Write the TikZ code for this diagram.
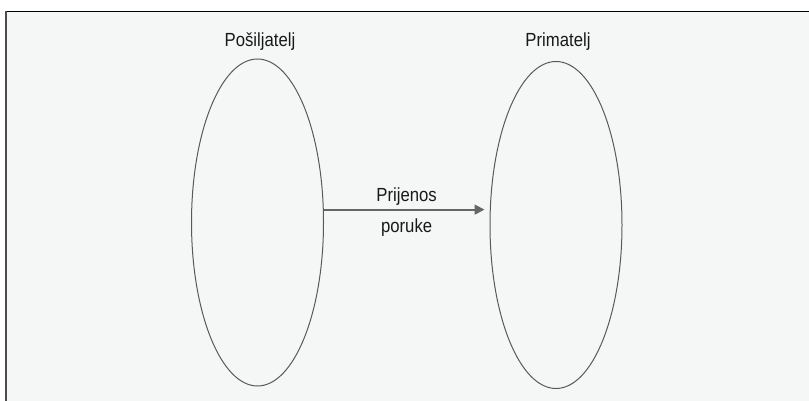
\documentclass[tikz,border=0pt]{standalone}
\usepackage{fontspec}
\setmainfont[FakeStretch=0.88]{Liberation Sans}
\usetikzlibrary{arrows.meta,positioning,shapes.geometric}
\tikzset{
  party/.style={ellipse, draw=black!65, line width=0.5pt, inner sep=0pt,
                minimum width=66pt, minimum height=163.5pt},
  ttl/.style={font=\fontsize{9.5}{11}\selectfont, text=black!90},
  msg/.style={-{Triangle[length=5pt,width=5pt]}, line width=0.9pt, draw=black!60},
}
\definecolor{paper}{RGB}{244,247,246}

\begin{document}
\begin{tikzpicture}[x=0.5pt,y=-0.5pt]
\useasboundingbox (0,0) rectangle (809,401);
% page and frame
\fill[paper] (6,11.5) rectangle (809,401);
\draw[black, line width=0.8pt] (5.5,11.5) -- (809,11.5);
\draw[black!70, line width=1pt] (6,11.5) -- (6,401);
% the two parties
\node[party] (sender) at (257.5,222.5) {};
\node[party] (receiver) at (556,225) {};
\node[ttl, anchor=base] (sendtitle) at (260,46.5) {Pošiljatelj};
\node[ttl, anchor=base] (recvtitle) at (558,46.5) {Primatelj};
% message
\draw[msg, shorten >=2.5pt] (sender.11.6) -- (sender.11.6 -| receiver.west)
  node[ttl, midway, above=1.5pt, inner sep=0pt] (msgtop) {Prijenos}
  node[ttl, midway, below=4pt, inner sep=0pt] (msgbot) {poruke};
\end{tikzpicture}
\end{document}
